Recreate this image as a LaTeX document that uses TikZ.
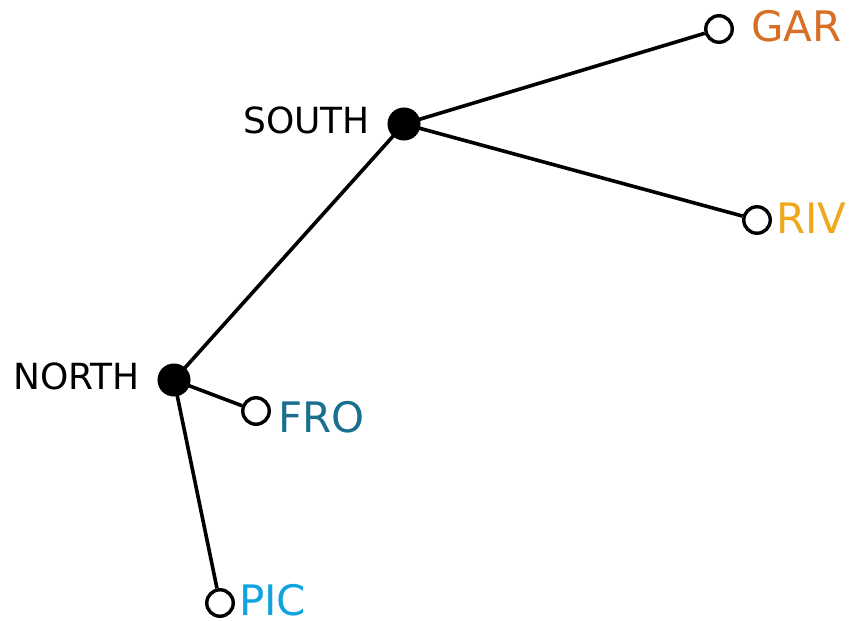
\documentclass[tikz,border=0pt]{standalone}
\usepackage{fontspec}
\setmainfont{DejaVu Sans}
\definecolor{cgar}{HTML}{D96F26}
\definecolor{criv}{HTML}{EFA81C}
\definecolor{cfro}{HTML}{1B6F8E}
\definecolor{cpic}{HTML}{11A3DD}
\begin{document}
\begin{tikzpicture}[x=1pt,y=-1pt,
  edge/.style={line width=3.6pt},
  inner/.style={circle,fill=black,draw=black,line width=1pt,minimum size=32pt,inner sep=0pt},
  leaf/.style={circle,fill=white,draw=black,line width=3.4pt,minimum size=26.5pt,inner sep=0pt},
  blab/.style={font=\fontsize{36}{36}\selectfont,inner sep=0pt,anchor=base east},
  clab/.style={font=\fontsize{42}{42}\selectfont,inner sep=0pt,anchor=base west}]
\useasboundingbox (0,0) rectangle (854,621);
\coordinate (s) at (404,124);
\coordinate (n) at (174,380);
\node[leaf] (gar) at (719,29) {};
\node[leaf] (riv) at (757,220) {};
\node[leaf] (fro) at (256,411) {};
\node[leaf] (pic) at (220,603) {};
\draw[edge] (s) -- (gar);
\draw[edge] (s) -- (riv);
\draw[edge] (s) -- (n);
\draw[edge] (n) -- (fro);
\draw[edge] (n) -- (pic);
\node[inner] (south) at (s) {};
\node[inner] (north) at (n) {};
\node[blab] (southl) at (370,133) {SOUTH};
\node[blab] (northl) at (140,389) {NORTH};
\node[clab,text=cgar] (garl) at (751,41) {GAR};
\node[clab,text=criv] (rivl) at (776,233) {RIV};
\node[clab,text=cfro] (frol) at (278,432) {FRO};
\node[clab,text=cpic] (picl) at (239,615) {PIC};
\end{tikzpicture}
\end{document}
